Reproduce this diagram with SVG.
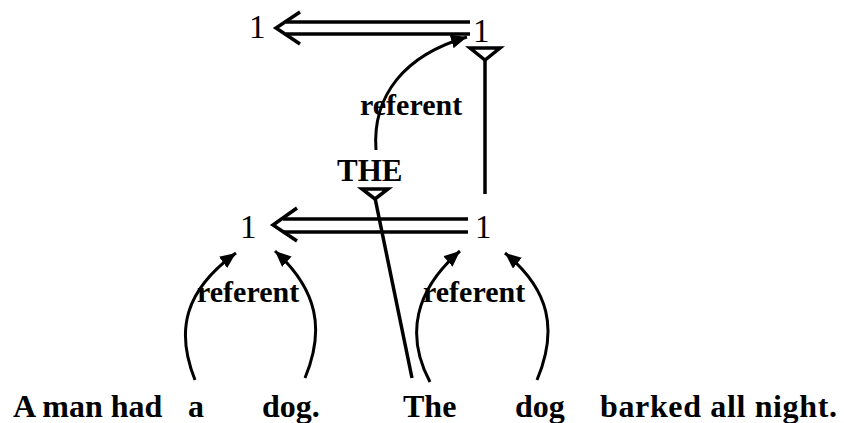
<svg xmlns="http://www.w3.org/2000/svg" width="844" height="423" viewBox="0 0 844 423">
<style>
.t{font-family:"Liberation Serif","Times New Roman",serif;fill:#000}
.num{font-size:33px}
.lbl{font-size:30px;font-weight:bold}
.the{font-size:31px;font-weight:bold}
.sent{font-size:32px;font-weight:bold}
.ln{fill:none;stroke:#000;stroke-width:3.5}
.cv{fill:none;stroke:#000;stroke-width:3;marker-end:url(#ah)}
.tri{fill:#fff;stroke:#000;stroke-width:3.5;stroke-linejoin:miter}
</style>
<defs>
<marker id="ah" markerUnits="userSpaceOnUse" markerWidth="20" markerHeight="16" refX="16" refY="7" orient="auto">
<path d="M0,0 L16,7 L0,14 Z" fill="#000"/>
</marker>
</defs>
<rect width="844" height="423" fill="#fff"/>
<g id="connectors">
<g id="top-double-arrow">
<line class="ln" x1="286" y1="22" x2="470" y2="22"/>
<line class="ln" x1="286" y1="34" x2="470" y2="34"/>
<polyline class="ln" points="300,12 276,28 300,44"/>
</g>
<g id="mid-double-arrow">
<line class="ln" x1="283" y1="219" x2="468" y2="219"/>
<line class="ln" x1="283" y1="232" x2="468" y2="232"/>
<polyline class="ln" points="297,208 273,225 297,241"/>
</g>
<line class="ln" x1="485" y1="58" x2="485" y2="194"/>
<line class="ln" x1="375" y1="198" x2="412" y2="378"/>
<path class="cv" d="M376,150 C372,95 405,55 467,37"/>
<path class="cv" d="M195,380 C175,330 185,290 236,253"/>
<path class="cv" d="M305,378 C325,330 318,290 275,251"/>
<path class="cv" d="M430,382 C405,335 415,290 460,251"/>
<path class="cv" d="M537,380 C558,330 550,290 505,253"/>
</g>
<g id="top-left-1"><text class="t num" x="249" y="38">1</text></g>
<g id="top-right-1"><text class="t num" x="473" y="42">1</text>
<polygon class="tri" points="470,48 500,48 485,60"/></g>
<g id="mid-left-1"><text class="t num" x="240" y="238">1</text></g>
<g id="mid-right-1"><text class="t num" x="475" y="238">1</text></g>
<g id="the-node"><text class="t the" x="337" y="181">THE</text>
<polygon class="tri" points="362,189 388,189 375,199"/></g>
<g id="label-referent-top"><text class="t lbl" x="360" y="115">referent</text></g>
<g id="label-referent-left"><text class="t lbl" x="197" y="302">referent</text></g>
<g id="label-referent-right"><text class="t lbl" x="423" y="302">referent</text></g>
<g id="sentence">
<text class="t sent" x="13" y="417">A man had</text>
<text class="t sent" x="188" y="417">a</text>
<text class="t sent" x="262" y="417">dog.</text>
<text class="t sent" x="403" y="417">The</text>
<text class="t sent" x="515" y="417">dog</text>
<text class="t sent" x="600" y="417" textLength="237" lengthAdjust="spacing">barked all night.</text>
</g>
</svg>
